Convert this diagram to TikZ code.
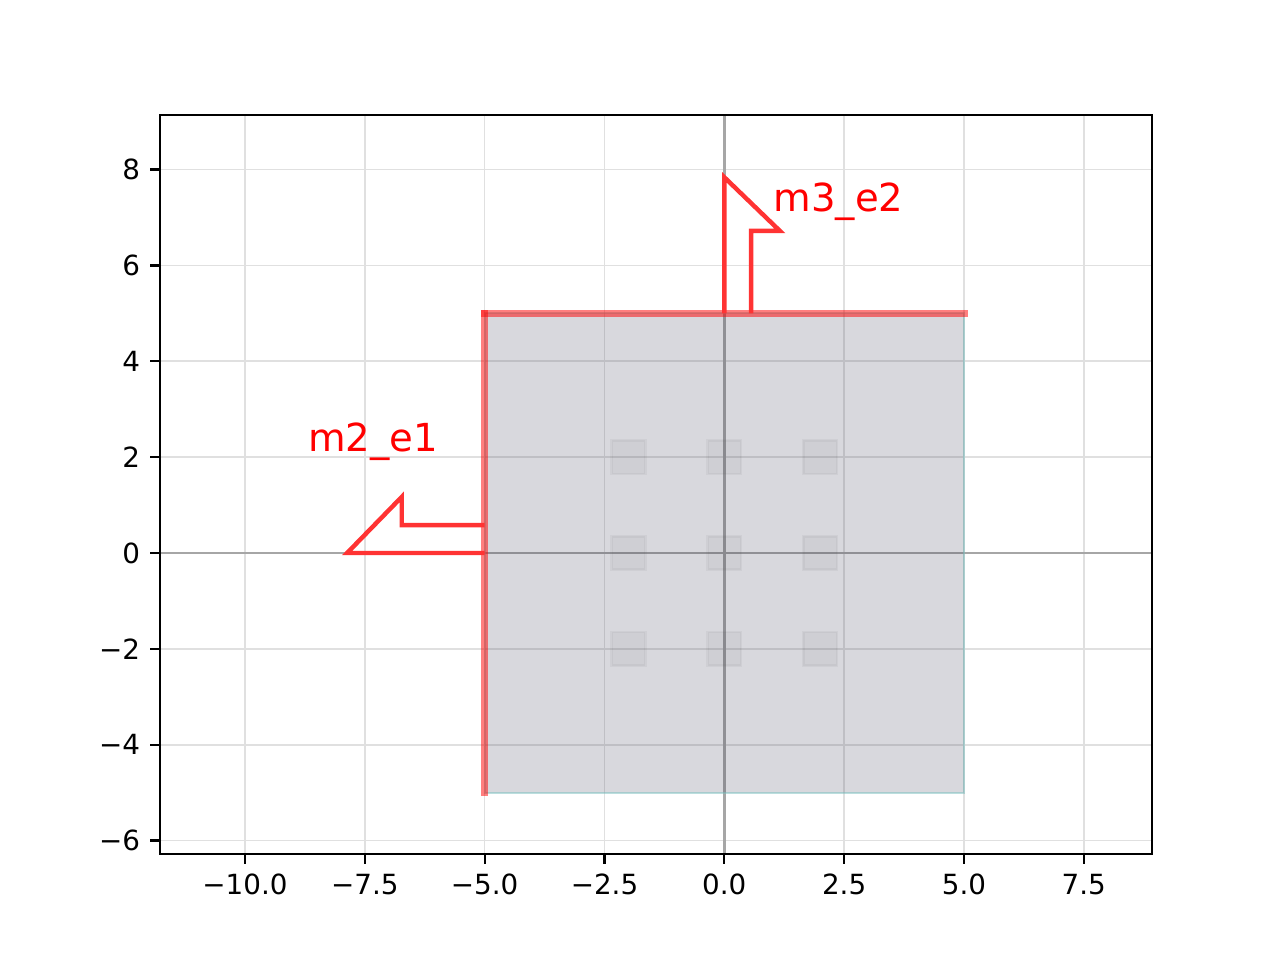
\documentclass[tikz,border=0pt]{standalone}
\usepackage{fontspec}
\setmainfont{DejaVu Sans}
\definecolor{squarefill}{RGB}{60,60,85}
\definecolor{squareedge}{RGB}{120,190,190}
\definecolor{arrowred}{RGB}{255,51,51}
\begin{document}
\begin{tikzpicture}[x=17.255pt,y=17.255pt,
  gridline/.style={draw=black!12, line width=0.6pt},
  zeroline/.style={draw=black!35, line width=0.9pt},
  bigsq/.style={fill=squarefill, fill opacity=0.2, draw=squareedge, draw opacity=0.5, line width=0.8pt},
  smallsq/.style={fill=black, fill opacity=0.04, draw=black!60, draw opacity=0.08, line width=1pt},
  redge/.style={draw=red, draw opacity=0.5, line width=2.6pt, line cap=rect},
  arrowshape/.style={draw=arrowred, line width=1.6pt, line join=miter},
  ticklabel/.style={font=\fontsize{10}{12}\selectfont, inner sep=0pt},
  edgelabel/.style={text=red, font=\fontsize{13.9}{16}\selectfont, inner sep=0pt, anchor=base west}]
\useasboundingbox (-15.112,-8.492) rectangle (11.594,11.538);
\def\xl{-11.773}\def\xr{8.923}\def\yb{-6.280}\def\yt{9.138}
% grid
\foreach \x in {-10,-7.5,-5,-2.5,0,2.5,5,7.5}
  \draw[gridline] (\x,\yb) -- (\x,\yt);
\foreach \y in {-6,-4,-2,0,2,4,6,8}
  \draw[gridline] (\xl,\y) -- (\xr,\y);
% zero lines
\draw[zeroline] (\xl,0) -- (\xr,0);
\draw[zeroline] (0,\yb) -- (0,\yt);
% big square
\path[bigsq] (-5,-5) rectangle (5,5);
% small squares
\foreach \cx in {-2,0,2}
  \foreach \cy in {-2,0,2}
    \path[smallsq] (\cx-0.35,\cy-0.35) rectangle (\cx+0.35,\cy+0.35);
% red edges
\draw[redge] (-5,-5) -- (-5,5);
\draw[redge] (-5,5) -- (5,5);
% arrows
\draw[arrowshape] (-5,0) -- (-7.87,0) -- (-6.73,1.17) -- (-6.73,0.58) -- (-5,0.58);
\draw[arrowshape] (0,5) -- (0,7.84) -- (1.16,6.72) -- (0.56,6.72) -- (0.56,5);
% labels
\node[edgelabel] (lbl1) at (-8.69,2.11) {m2\_e1};
\node[edgelabel] (lbl2) at (1.02,7.12) {m3\_e2};
% frame and ticks
\draw[line width=0.8pt, line join=miter] (\xl,\yb) rectangle (\xr,\yt);
\foreach \x/\t [count=\i] in {-10/−10.0,-7.5/−7.5,-5/−5.0,-2.5/−2.5,0/0.0,2.5/2.5,5/5.0,7.5/7.5}{
  \draw[line width=0.8pt] (\x,\yb) -- ++(0,-3.5pt);
  \node[ticklabel, anchor=north] (xt\i) at ([yshift=-7pt]\x,\yb) {\t};
}
\foreach \y/\t [count=\i] in {-6/−6,-4/−4,-2/−2,0/0,2/2,4/4,6/6,8/8}{
  \draw[line width=0.8pt] (\xl,\y) -- ++(-3.5pt,0);
  \node[ticklabel, anchor=east] (yt\i) at ([xshift=-7pt]\xl,\y) {\t};
}
\end{tikzpicture}
\end{document}
